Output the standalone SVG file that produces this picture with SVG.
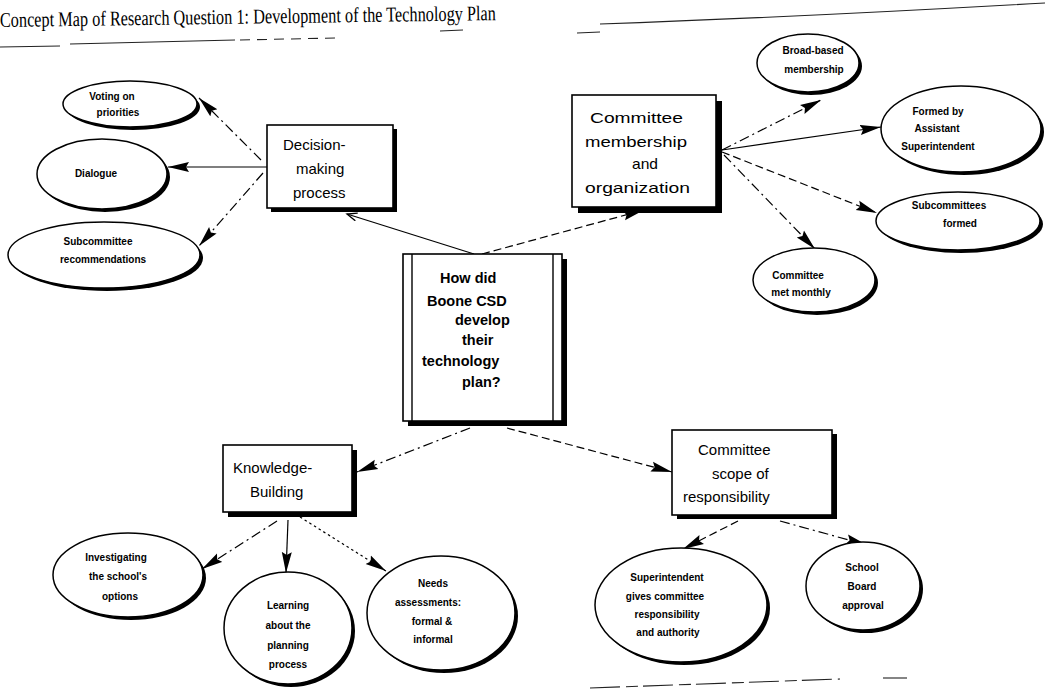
<svg xmlns="http://www.w3.org/2000/svg" width="1045" height="690" viewBox="0 0 1045 690">
<defs>
<style>
.box{fill:#fff;stroke:#000;stroke-width:1.6}
.sh{fill:#000}
.ell{fill:#fff;stroke:#000;stroke-width:1.5}
.bt{font-family:"Liberation Sans",Arial,sans-serif;font-size:15px;fill:#000}
.ct{font-family:"Liberation Sans",Arial,sans-serif;font-size:14.5px;font-weight:bold;fill:#000}
.et{font-family:"Liberation Sans",Arial,sans-serif;font-size:10px;font-weight:bold;fill:#000;text-anchor:middle}
.ln{fill:none;stroke:#000;stroke-width:1.2}
.dash{stroke-dasharray:8 4}
.dd{stroke-dasharray:10 4 2 4}
.dot{stroke-dasharray:2.5 3}
.scan{fill:none;stroke:#222;stroke-width:1.1}
</style>
<marker id="ah" markerUnits="userSpaceOnUse" markerWidth="24" markerHeight="12" refX="21" refY="5.5" orient="auto">
<path d="M0,0.5 L21,5.5 L0,10.5 L3,5.5 z" fill="#000"/>
</marker>
<marker id="ahs" markerUnits="userSpaceOnUse" markerWidth="14" markerHeight="10" refX="11" refY="4.5" orient="auto">
<path d="M1,0.5 L11,4.5 L1,8.5" fill="none" stroke="#000" stroke-width="1.3"/>
</marker>
</defs>
<rect width="1045" height="690" fill="#fff"/>

<g id="scan-marks">
<path class="scan" d="M0,47 L60,46" stroke-width="0.8"/>
<path class="scan" d="M70,44 L235,40"/>
<path class="scan" d="M240,40 L335,38" stroke-dasharray="10 7"/>
<path class="scan" d="M440,31 L463,30"/>
<path class="scan" d="M577,33 L600,32"/>
<path class="scan" d="M600,24 Q800,17 1045,3"/>
<path class="scan" d="M590,688 L840,679" stroke-dasharray="30 6 12 5"/>
<path class="scan" d="M883,678 L907,678"/>
</g>

<g id="title">
<text x="0" y="27" font-family="'Liberation Serif','Times New Roman',serif" font-size="21" textLength="496" lengthAdjust="spacingAndGlyphs" transform="rotate(-0.8 0 27)">Concept Map of Research Question 1: Development of the Technology Plan</text>
</g>

<g id="connectors">
<path class="ln dd" d="M261,160 L199,98" marker-end="url(#ah)"/>
<path class="ln" d="M267,167 L168,167" marker-end="url(#ah)"/>
<path class="ln dd" d="M263,173 L199,246" marker-end="url(#ah)"/>
<path class="ln" d="M474,254 L347,214" marker-end="url(#ahs)"/>
<path class="ln dash" d="M482,254 L644,210" marker-end="url(#ah)"/>
<path class="ln dd" d="M722,150 L821,100" marker-end="url(#ah)"/>
<path class="ln" d="M722,150 L881,127" marker-end="url(#ah)"/>
<path class="ln dash" d="M722,152 L877,213" marker-end="url(#ah)"/>
<path class="ln dd" d="M724,155 L815,249" marker-end="url(#ah)"/>
<path class="ln dd" d="M470,428 L357,472" marker-end="url(#ah)"/>
<path class="ln dash" d="M507,428 L672,472" marker-end="url(#ah)"/>
<path class="ln dd" d="M277,521 L202,569" marker-end="url(#ah)"/>
<path class="ln" d="M288,520 L286,573" marker-end="url(#ah)"/>
<path class="ln dot" d="M300,517 L386,571" marker-end="url(#ah)"/>
<path class="ln dash" d="M738,521 L683,549" marker-end="url(#ah)"/>
<path class="ln dd" d="M780,521 L867,545" marker-end="url(#ah)"/>
</g>

<g id="decision-making">
<rect class="sh" x="271" y="129" width="126" height="83"/>
<rect class="box" x="267" y="125" width="126" height="83"/>
<text class="bt" x="283" y="150">Decision-</text>
<text class="bt" x="296" y="174">making</text>
<text class="bt" x="293" y="198">process</text>
</g>

<g id="committee-membership">
<rect class="sh" x="578" y="101" width="144" height="112"/>
<rect class="box" x="572" y="95" width="144" height="112"/>
<text class="bt" x="590" y="123" textLength="93" lengthAdjust="spacingAndGlyphs">Committee</text>
<text class="bt" x="585" y="147" textLength="102" lengthAdjust="spacingAndGlyphs">membership</text>
<text class="bt" x="632" y="169" textLength="26" lengthAdjust="spacingAndGlyphs">and</text>
<text class="bt" x="585" y="193" textLength="105" lengthAdjust="spacingAndGlyphs">organization</text>
</g>

<g id="central-question">
<rect class="sh" x="408" y="259" width="159" height="167"/>
<rect class="box" x="403" y="254" width="159" height="167"/>
<line x1="412" y1="254" x2="412" y2="421" stroke="#000" stroke-width="1.4"/>
<line x1="553" y1="254" x2="553" y2="421" stroke="#000" stroke-width="1.4"/>
<text class="ct" x="440" y="283">How did</text>
<text class="ct" x="427" y="306">Boone CSD</text>
<text class="ct" x="455" y="325">develop</text>
<text class="ct" x="462" y="345">their</text>
<text class="ct" x="422" y="366">technology</text>
<text class="ct" x="462" y="387">plan?</text>
</g>

<g id="knowledge-building">
<rect class="sh" x="228" y="450" width="129" height="67"/>
<rect class="box" x="223" y="445" width="129" height="67"/>
<text class="bt" x="233" y="473">Knowledge-</text>
<text class="bt" x="250" y="497">Building</text>
</g>

<g id="committee-scope">
<rect class="sh" x="677" y="434" width="160" height="85"/>
<rect class="box" x="672" y="430" width="160" height="85"/>
<text class="bt" x="698" y="455">Committee</text>
<text class="bt" x="712" y="479">scope of</text>
<text class="bt" x="683" y="502">responsibility</text>
</g>

<g id="voting">
<ellipse class="sh" cx="133" cy="107" rx="67" ry="23"/>
<ellipse class="ell" cx="130" cy="104" rx="67" ry="23"/>
<text class="et" x="112" y="100">Voting on</text>
<text class="et" x="118" y="116">priorities</text>
</g>

<g id="dialogue">
<ellipse class="sh" cx="105" cy="177" rx="65" ry="35"/>
<ellipse class="ell" cx="102" cy="174" rx="65" ry="35"/>
<text class="et" x="96" y="177">Dialogue</text>
</g>

<g id="subcommittee-recommendations">
<ellipse class="sh" cx="107" cy="258" rx="96" ry="33"/>
<ellipse class="ell" cx="104" cy="255" rx="96" ry="33"/>
<text class="et" x="98" y="245">Subcommittee</text>
<text class="et" x="103" y="263">recommendations</text>
</g>

<g id="broad-based">
<ellipse class="sh" cx="811" cy="66" rx="51" ry="29"/>
<ellipse class="ell" cx="808" cy="63" rx="51" ry="29"/>
<text class="et" x="813" y="54">Broad-based</text>
<text class="et" x="814" y="73">membership</text>
</g>

<g id="formed-by">
<ellipse class="sh" cx="964" cy="132" rx="80" ry="43"/>
<ellipse class="ell" cx="961" cy="129" rx="80" ry="43"/>
<text class="et" x="938" y="115">Formed by</text>
<text class="et" x="937" y="132">Assistant</text>
<text class="et" x="938" y="150">Superintendent</text>
</g>

<g id="subcommittees-formed">
<ellipse class="sh" cx="961" cy="224" rx="82" ry="29"/>
<ellipse class="ell" cx="958" cy="221" rx="82" ry="29"/>
<text class="et" x="949" y="209">Subcommittees</text>
<text class="et" x="960" y="227">formed</text>
</g>

<g id="met-monthly">
<ellipse class="sh" cx="817" cy="283" rx="61" ry="32"/>
<ellipse class="ell" cx="814" cy="280" rx="61" ry="32"/>
<text class="et" x="798" y="279">Committee</text>
<text class="et" x="801" y="296">met monthly</text>
</g>

<g id="investigating">
<ellipse class="sh" cx="131" cy="578" rx="75" ry="42"/>
<ellipse class="ell" cx="128" cy="575" rx="75" ry="42"/>
<text class="et" x="116" y="561">Investigating</text>
<text class="et" x="118" y="580">the school's</text>
<text class="et" x="120" y="600">options</text>
</g>

<g id="learning">
<ellipse class="sh" cx="291" cy="631" rx="64" ry="56"/>
<ellipse class="ell" cx="288" cy="628" rx="64" ry="56"/>
<text class="et" x="288" y="609">Learning</text>
<text class="et" x="288" y="629">about the</text>
<text class="et" x="288" y="649">planning</text>
<text class="et" x="288" y="668">process</text>
</g>

<g id="needs-assessments">
<ellipse class="sh" cx="444" cy="616" rx="74" ry="57"/>
<ellipse class="ell" cx="441" cy="613" rx="74" ry="57"/>
<text class="et" x="433" y="587">Needs</text>
<text class="et" x="428" y="606">assessments:</text>
<text class="et" x="432" y="625">formal &amp;</text>
<text class="et" x="433" y="643">informal</text>
</g>

<g id="superintendent-gives">
<ellipse class="sh" cx="684" cy="608" rx="86" ry="57"/>
<ellipse class="ell" cx="681" cy="605" rx="86" ry="57"/>
<text class="et" x="667" y="581">Superintendent</text>
<text class="et" x="665" y="600">gives committee</text>
<text class="et" x="667" y="618">responsibility</text>
<text class="et" x="668" y="636">and authority</text>
</g>

<g id="school-board">
<ellipse class="sh" cx="866" cy="589" rx="57" ry="44"/>
<ellipse class="ell" cx="863" cy="586" rx="57" ry="44"/>
<text class="et" x="862" y="571">School</text>
<text class="et" x="862" y="590">Board</text>
<text class="et" x="863" y="609">approval</text>
</g>
</svg>
